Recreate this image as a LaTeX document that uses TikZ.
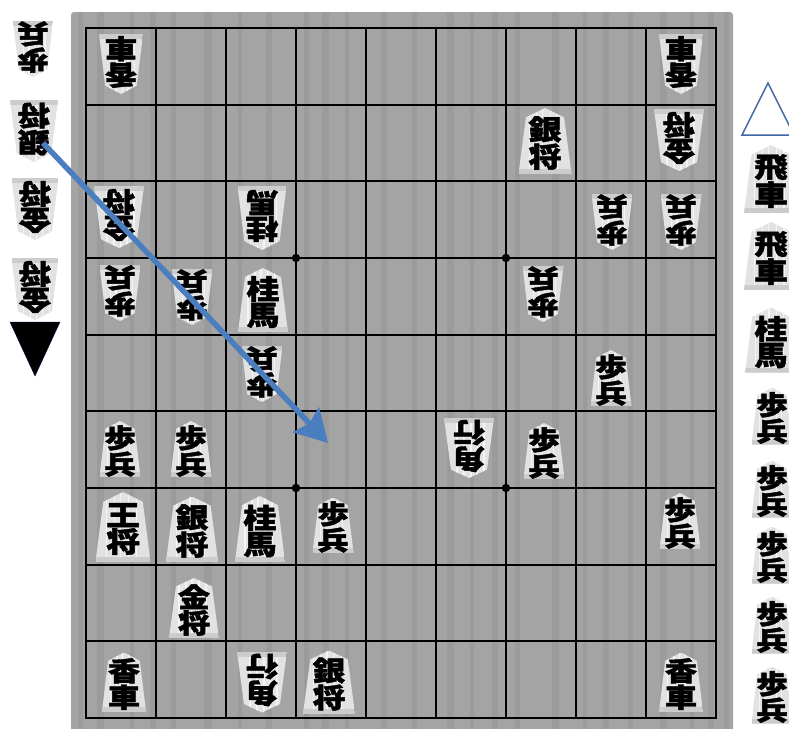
\documentclass[tikz,border=0pt]{standalone}
\usepackage{fontspec}
\newfontfamily\komafont{Noto Sans CJK JP}[BoldFeatures={FakeBold=1.5}]
\usetikzlibrary{arrows.meta}

\definecolor{boardgray}{RGB}{164,164,164}
\definecolor{graingray}{RGB}{140,140,140}
\definecolor{komabody}{RGB}{226,226,226}
\definecolor{komaline}{RGB}{244,244,244}
\definecolor{komabase}{RGB}{204,204,204}
\definecolor{dropblue}{RGB}{74,126,190}
\definecolor{markblue}{RGB}{63,102,168}

\tikzset{
  komatext/.style={align=center, inner sep=0pt, xscale=1.2},
  gridline/.style={line width=1.8pt, black},
  droparrow/.style={line width=5.5pt, dropblue, -{Stealth[length=32pt,width=36pt,inset=5pt]}},
}

% piece: #1 name, #2 x, #3 y, #4 angle, #5 width, #6 height, #7 text
\newcommand{\koma}[7]{%
  \begin{scope}[shift={(#2,#3)}, rotate=#4]
    \begin{scope}
      \clip (0,{-#6/2}) -- ({0.36*#5},{-0.36*#6}) -- ({#5/2},{#6/2})
        -- ({-#5/2},{#6/2}) -- ({-0.36*#5},{-0.36*#6}) -- cycle;
      \fill[komabody] ({-#5/2},{-#6/2}) rectangle ({#5/2},{#6/2});
      \foreach \s in {-0.3,-0.16,-0.04,0.1,0.24}
        \draw[komaline, line width=1.2pt] ({\s*#5},{-#6/2}) -- ({\s*#5},{#6/2});
      \fill[komabase] ({-#5/2},{#6/2-5}) rectangle ({#5/2},{#6/2});
    \end{scope}
    \pgfmathsetmacro\kfs{19+0.13*#6}
    \pgfmathsetmacro\kbs{0.9*\kfs}
    \node[komatext, rotate=#4, font=\komafont\bfseries\fontsize{\kfs}{\kbs}\selectfont]
      (#1) at (0,2) {#7};
  \end{scope}}

\begin{document}
\begin{tikzpicture}[x=1pt, y=-1pt]
\useasboundingbox (0,0) rectangle (789,728);

% board
\fill[boardgray, rounded corners=3pt] (71,12) rectangle (733,734);
\foreach \g/\w in {78/5,97/7,130/4,150/6,171/5,204/8,238/4,266/6,304/5,322/7,345/4,381/6,412/5,
  447/7,470/4,492/6,515/5,552/7,583/4,603/6,628/5,660/7,690/4,708/6,724/5}
  \fill[graingray, opacity=0.35] (\g,12) rectangle (\g+\w,734);

% grid
\draw[gridline] (86,28) rectangle (716,718);
\foreach \i in {1,...,8} {
  \draw[gridline] ({86+70*\i},28) -- ({86+70*\i},718);
  \draw[gridline] (86,{28+690/9*\i}) -- (716,{28+690/9*\i});
}
\foreach \sx/\sy in {296/258,506/258,296/488,506/488}
  \fill (\sx,\sy) circle (4.2);

% gote pieces on the board
\koma{gkyo1}{121}{64}{180}{44}{60}{香\\車}
\koma{gkyo2}{681}{64}{180}{44}{60}{香\\車}
\koma{gkin1}{679}{140}{180}{50}{62}{金\\将}
\koma{gkin2}{119}{217}{180}{50}{62}{金\\将}
\koma{gkei1}{262}{218}{180}{49}{64}{桂\\馬}
\koma{gfu1}{612}{222}{180}{41}{56}{歩\\兵}
\koma{gfu2}{681}{222}{180}{41}{56}{歩\\兵}
\koma{gfu3}{120}{293}{180}{41}{56}{歩\\兵}
\koma{gfu4}{192}{297}{180}{41}{56}{歩\\兵}
\koma{gfu5}{543}{294}{180}{41}{56}{歩\\兵}
\koma{gfu6}{262}{374}{180}{41}{56}{歩\\兵}
\koma{gkaku1}{469}{448}{180}{50}{60}{角\\行}
\koma{gkaku2}{262}{682}{180}{50}{61}{角\\行}

% sente pieces on the board
\koma{sgin1}{545}{141}{0}{53}{66}{銀\\将}
\koma{skei1}{263}{300}{0}{50}{64}{桂\\馬}
\koma{sfu1}{611}{378}{0}{41}{56}{歩\\兵}
\koma{sfu2}{120}{449}{0}{41}{56}{歩\\兵}
\koma{sfu3}{191}{449}{0}{41}{56}{歩\\兵}
\koma{sfu4}{544}{451}{0}{41}{56}{歩\\兵}
\koma{sou}{123}{527}{0}{55}{70}{王\\将}
\koma{sgin2}{192}{529}{0}{52}{65}{銀\\将}
\koma{skei2}{260}{529}{0}{50}{66}{桂\\馬}
\koma{sfu5}{333}{525}{0}{41}{55}{歩\\兵}
\koma{sfu6}{680}{521}{0}{41}{56}{歩\\兵}
\koma{skin1}{194}{608}{0}{50}{60}{金\\将}
\koma{skyo1}{124}{682}{0}{44}{59}{香\\車}
\koma{sgin3}{329}{682}{0}{52}{63}{銀\\将}
\koma{skyo2}{681}{682}{0}{44}{59}{香\\車}

% gote hand (left)
\koma{hgfu}{33}{49}{180}{40}{56}{歩\\兵}
\koma{hggin}{34}{131}{180}{48}{62}{銀\\将}
\koma{hgkin1}{35}{209}{180}{47}{62}{金\\将}
\koma{hgkin2}{35}{289}{180}{47}{62}{金\\将}
\filldraw[fill=black, draw=black!70!blue] (10,322) -- (60,322) -- (35,376) -- cycle;

% sente hand (right)
\filldraw[fill=white, draw=markblue, line width=1.5pt] (768,83) -- (794,135) -- (742,135) -- cycle;
\koma{hshi1}{771}{179}{0}{54}{68}{飛\\車}
\koma{hshi2}{771}{256}{0}{54}{68}{飛\\車}
\koma{hskei}{771}{340}{0}{52}{65}{桂\\馬}
\koma{hsfu1}{772}{416}{0}{41}{57}{歩\\兵}
\koma{hsfu2}{772}{489}{0}{41}{57}{歩\\兵}
\koma{hsfu3}{772}{555}{0}{41}{57}{歩\\兵}
\koma{hsfu4}{772}{625}{0}{41}{57}{歩\\兵}
\koma{hsfu5}{772}{695}{0}{41}{57}{歩\\兵}

% drop move
\coordinate (dropfrom) at (43,143);
\coordinate (dropto) at (328,443);
\draw[droparrow] (dropfrom) -- (dropto);
\end{tikzpicture}
\end{document}
